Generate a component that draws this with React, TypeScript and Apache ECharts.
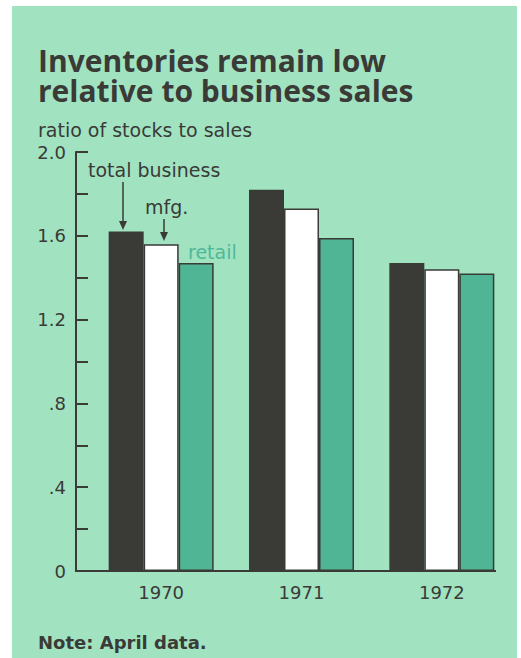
import React, { useEffect, useRef } from 'react';
import * as echarts from 'echarts';

const years = ['1970', '1971', '1972'];
const totalBusiness = [1.62, 1.82, 1.47];
const manufacturing = [1.56, 1.73, 1.44];
const retail = [1.47, 1.59, 1.42];
const yLabelText: Record<string, string> = { '0': '0', '4': '.4', '8': '.8', '12': '1.2', '16': '1.6', '20': '2.0' };

const titleLines = ['Inventories remain low', 'relative to business sales'];
const unitLabel = 'ratio of stocks to sales';
const noteText = 'Note: April data.';

const INK = '#3a3a37';
const BG = '#a1e3c1';
const GREEN = '#50b594';

export default function App() {
  const ref = useRef<HTMLDivElement>(null);
  useEffect(() => {
    document.body.style.margin = '0';
    const chart = echarts.init(ref.current!, undefined, { renderer: 'svg' });
    const font = '"DejaVu Sans", sans-serif';
    const titleFont = '"Open Sans", sans-serif';
    chart.setOption({
      animation: false,
      backgroundColor: '#ffffff',
      grid: { left: 91, right: 9, top: 152, bottom: 87 },
      xAxis: {
        type: 'category',
        data: years,
        axisLine: { show: false },
        axisTick: { show: false },
        axisLabel: { color: INK, fontSize: 18, fontFamily: font, margin: 12 },
      },
      yAxis: {
        type: 'value',
        min: 0,
        max: 2,
        interval: 0.2,
        offset: 15,
        splitLine: { show: false },
        axisLine: { show: true, lineStyle: { color: INK, width: 2 } },
        axisTick: { show: true, inside: true, length: 12, lineStyle: { color: INK, width: 2 } },
        axisLabel: {
          color: INK,
          fontSize: 18,
          fontFamily: font,
          margin: 10,
          formatter: (v: number) => {
            const k = Math.round(v * 10);
            return k % 4 === 0 ? yLabelText[String(k)] ?? '' : '';
          },
        },
      },
      series: [
        {
          name: 'total business',
          type: 'bar',
          data: totalBusiness,
          barWidth: 35,
          barGap: '0%',
          itemStyle: { color: INK, borderColor: INK, borderWidth: 1.5 },
        },
        {
          name: 'mfg.',
          type: 'bar',
          data: manufacturing,
          barWidth: 35,
          barGap: '0%',
          itemStyle: { color: '#ffffff', borderColor: INK, borderWidth: 1.5 },
        },
        {
          name: 'retail',
          type: 'bar',
          data: retail,
          barWidth: 35,
          barGap: '0%',
          itemStyle: { color: GREEN, borderColor: INK, borderWidth: 1.5 },
        },
      ],
      graphic: [
        { type: 'rect', z: -10, shape: { x: 12, y: 6, width: 505, height: 660 }, style: { fill: BG } },
        {
          type: 'text', x: 38, y: 45,
          style: {
            text: titleLines.join('\n'), fill: INK, font: `bold 30px ${titleFont}`,
            lineHeight: 30, verticalAlign: 'top',
          },
        },
        {
          type: 'text', x: 38, y: 120,
          style: { text: unitLabel, fill: INK, font: `19px ${font}`, verticalAlign: 'top' },
        },
        {
          type: 'text', x: 38, y: 633,
          style: { text: noteText, fill: INK, font: `bold 18px ${font}`, verticalAlign: 'top' },
        },
        { type: 'line', z: 10, shape: { x1: 75, y1: 571, x2: 496, y2: 571 }, style: { stroke: INK, lineWidth: 2 } },
        {
          type: 'text', x: 88, y: 160,
          style: { text: 'total business', fill: INK, font: `19px ${font}`, verticalAlign: 'top' },
        },
        { type: 'line', shape: { x1: 123, y1: 182, x2: 123, y2: 222 }, style: { stroke: INK, lineWidth: 1.5 } },
        { type: 'polygon', shape: { points: [[119, 221], [127, 221], [123, 230]] }, style: { fill: INK } },
        {
          type: 'text', x: 145, y: 197,
          style: { text: 'mfg.', fill: INK, font: `19px ${font}`, verticalAlign: 'top' },
        },
        { type: 'line', shape: { x1: 164, y1: 219, x2: 164, y2: 233 }, style: { stroke: INK, lineWidth: 1.5 } },
        { type: 'polygon', shape: { points: [[160, 232], [168, 232], [164, 241]] }, style: { fill: INK } },
        {
          type: 'text', x: 188, y: 242,
          style: { text: 'retail', fill: '#4fb898', font: `19px ${font}`, verticalAlign: 'top' },
        },
      ],
    });
    return () => chart.dispose();
  }, []);
  return <div ref={ref} style={{ width: 521, height: 658 }} />;
}
